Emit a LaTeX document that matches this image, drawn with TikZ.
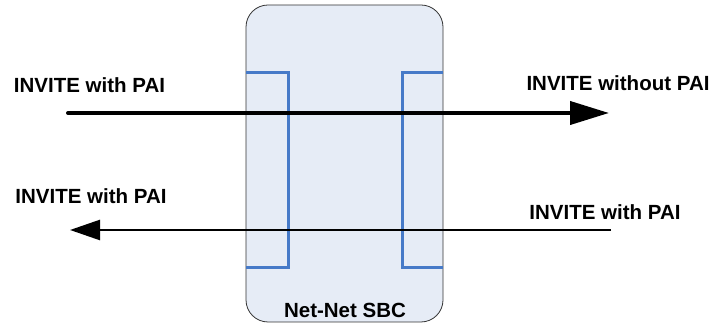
\documentclass[tikz,border=0pt]{standalone}
\usepackage{fontspec}
\setmainfont{Liberation Sans}
\usetikzlibrary{arrows.meta}
\definecolor{sbcfill}{RGB}{230,236,246}
\definecolor{portblue}{RGB}{70,122,200}
\newcommand{\portbracket}[2] % outer x, inner x (pt)
{
	% open bracket on the SBC edge
	\draw[portblue, line width=3pt] (#1,250) -- (#2,250) -- (#2,55) -- (#1,55);
}
\tikzset{
	msg/.style={font=\fontsize{20.5}{23}\selectfont\bfseries, inner sep=0pt},
}

\begin{document}
\begin{tikzpicture}[x=1pt, y=1pt]
	\useasboundingbox (0,0) rectangle (713,323);
	% SBC body
	\draw[fill=sbcfill, draw=black!80, line width=0.8pt, rounded corners=22pt] (246,1) rectangle (443,318);
	\node[msg] (sbc) at (345,13) {Net-Net SBC};
	% ports
	\portbracket{246}{288};
	\portbracket{443}{402};
	% signalling
	\coordinate (inA) at (68,210);
	\coordinate (outA) at (609,210);
	\coordinate (inB) at (611,93);
	\coordinate (outB) at (70,93);
	\draw[line width=4pt, line cap=round, -{Triangle[length=39pt, width=23pt]}] (inA) -- (outA);
	\draw[line width=2.5pt, -{Triangle[length=30pt, width=20pt]}] (inB) -- (outB);
	% labels
	\node[msg] (lblA) at (89.5,238) {INVITE with PAI};
	\node[msg] (lblA2) at (618,240) {INVITE without PAI};
	\node[msg] (lblB) at (91,127) {INVITE with PAI};
	\node[msg] (lblB2) at (605,111) {INVITE with PAI};
\end{tikzpicture}
\end{document}
